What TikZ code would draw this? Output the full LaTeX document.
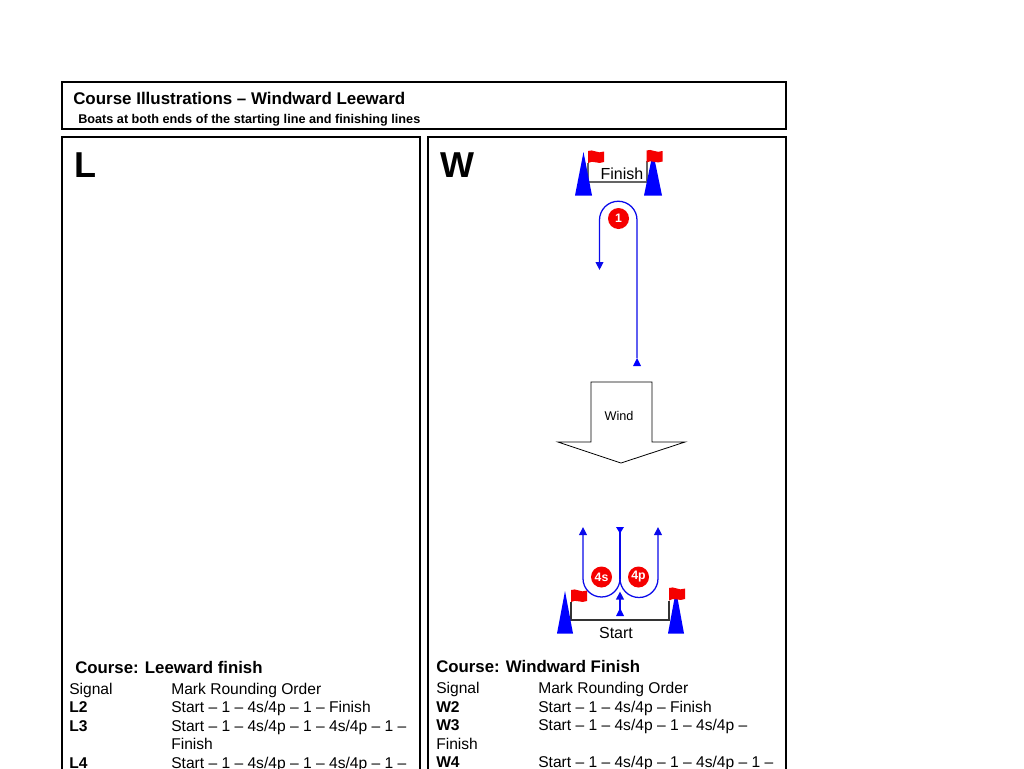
\documentclass[tikz,border=0pt]{standalone}
\usepackage{fontspec}
\setmainfont{Liberation Sans}
\usetikzlibrary{arrows.meta}
\definecolor{cblue}{RGB}{10,10,235}
\definecolor{bblue}{RGB}{0,0,255}
\definecolor{fred}{RGB}{245,0,0}
\definecolor{lgrey}{RGB}{100,100,100}
\begin{document}
\begin{tikzpicture}[x=0.75pt,y=-0.75pt,
  panelframe/.style={draw=black,line width=2.2pt},
  course/.style={draw=cblue,line width=0.95pt},
  tipped/.style={course,-{Triangle[length=6pt,width=5.8pt]}},
  buoy/.style={fill=bblue},
  flagshape/.style={fill=fred},
  markdisc/.style={circle,fill=fred,minimum size=15.75pt,inner sep=0pt,text=white,font=\bfseries\fontsize{9.2}{10}\selectfont},
  tabtext/.style={anchor=base west,inner sep=0pt,font=\fontsize{11.7}{14}\selectfont},
  tabbold/.style={tabtext,font=\bfseries\fontsize{11.7}{14}\selectfont},
  coursecap/.style={anchor=base west,inner sep=0pt,font=\bfseries\fontsize{12.6}{15}\selectfont},
  bigletter/.style={anchor=base west,inner sep=0pt,font=\bfseries\fontsize{27}{30}\selectfont}]
\useasboundingbox (0,0) rectangle (1024,768);
\fill[white] (0,0) rectangle (1024,768);

% header
\draw[panelframe] (62,82) rectangle (786,129);
\node[anchor=base west,inner sep=0pt,font=\bfseries\fontsize{12.7}{15}\selectfont] (title) at (73,104) {Course Illustrations – Windward Leeward};
\node[anchor=base west,inner sep=0pt,font=\bfseries\fontsize{9.5}{11}\selectfont] (subtitle) at (78,123.5) {Boats at both ends of the starting line and finishing lines};

% panels
\draw[panelframe] (62,800) -- (62,137) -- (420,137) -- (420,800);
\draw[panelframe] (428,800) -- (428,137) -- (786,137) -- (786,800);
\node[bigletter] (Lbig) at (74,177) {L};
\node[bigletter] (Wbig) at (440,177) {W};

% finish line
\draw[lgrey,line width=0.8pt] (588,163) -- (588,182) -- (647,182) -- (647,161);
\fill[buoy] (575,195.5) -- (592,195.5) -- (583.5,152) -- cycle;
\fill[buoy] (644,195.5) -- (662,195.5) -- (653,152) -- cycle;
\fill[flagshape] (588,151) .. controls (593,148.5) and (598,154.5) .. (604,151.5) -- (604,162) .. controls (598,165) and (593,159.5) .. (588,163) -- cycle;
\fill[flagshape] (646.5,150.5) .. controls (651.5,148) and (656.5,154) .. (662.5,151) -- (662.5,161.5) .. controls (656.5,164.5) and (651.5,159) .. (646.5,162.5) -- cycle;
\node[inner sep=0pt,font=\fontsize{12}{14}\selectfont] (finish) at (622,173.5) {Finish};

% mark 1 loop
\node[markdisc] (m1) at (618.5,218.5) {1};
\coordinate (m1in) at (637,358);
\coordinate (m1out) at (599.5,270);
\draw[tipped] (m1in) -- (637,220) arc[start angle=0,end angle=-180,radius=18.75] -- (m1out);
\fill[bblue] (633,366) -- (641,366) -- (m1in) -- cycle;

% wind arrow
\draw[black,line width=0.6pt] (591,382) -- (652,382) -- (652,442) -- (685,442) -- (621,463) -- (558,442) -- (591,442) -- cycle;
\node[inner sep=0pt,font=\fontsize{9.5}{11}\selectfont] (wind) at (619,416) {Wind};

% gate loops
\node[markdisc] (m4s) at (601.5,577) {4s};
\node[markdisc] (m4p) at (638.5,577) {4p};
\coordinate (gtop) at (620,527);
\coordinate (gjoin) at (620,578.5);
\coordinate (gl) at (583,527);
\coordinate (gr) at (658,527);
\draw[course] (gtop) -- (gjoin);
\fill[bblue] (616,527) -- (624,527) -- (620,533.5) -- cycle;
\draw[tipped] (gjoin) arc[start angle=0,end angle=180,radius=18.5] -- (gl);
\draw[tipped] (gjoin) arc[start angle=180,end angle=0,radius=19] -- (gr);
\coordinate (sfrom) at (620,615);
\coordinate (sto) at (620,591.5);
\draw[tipped] (sfrom) -- (sto);
\fill[bblue] (616,616) -- (624,616) -- (620,608) -- cycle;

% start line
\draw[black!80,line width=0.8pt] (571,602) -- (571,620) -- (669,620) -- (669,601);
\fill[buoy] (557,633.5) -- (573,633.5) -- (565,591) -- cycle;
\fill[buoy] (668,633.5) -- (684,633.5) -- (676,590) -- cycle;
\fill[flagshape] (571,590) .. controls (576,587.5) and (581,593.5) .. (587,590.5) -- (587,601) .. controls (581,604) and (576,598.5) .. (571,602) -- cycle;
\fill[flagshape] (669,588) .. controls (674,585.5) and (679,591.5) .. (685,588.5) -- (685,599) .. controls (679,602) and (674,596.5) .. (669,600.5) -- cycle;
\node[inner sep=0pt,font=\fontsize{12}{14}\selectfont] (start) at (616,632.5) {Start};

% L table
\node[coursecap] (Lcap) at (75,673) {Course: Leeward finish};
\node[tabtext] (Ls) at (69,694) {Signal};
\node[tabtext] (Lm) at (171,694) {Mark Rounding Order};
\node[tabbold] (L2) at (69,712.5) {L2};
\node[tabtext] (L2t) at (171,712.5) {Start – 1 – 4s/4p – 1 – Finish};
\node[tabbold] (L3) at (69,731) {L3};
\node[tabtext] (L3t) at (171,731) {Start – 1 – 4s/4p – 1 – 4s/4p – 1 –};
\node[tabtext] (L3u) at (171,749.5) {Finish};
\node[tabbold] (L4) at (69,768) {L4};
\node[tabtext] (L4t) at (171,768) {Start – 1 – 4s/4p – 1 – 4s/4p – 1 –};

% W table
\node[coursecap] (Wcap) at (436,672) {Course: Windward Finish};
\node[tabtext] (Ws) at (436,693.5) {Signal};
\node[tabtext] (Wm) at (538,693.5) {Mark Rounding Order};
\node[tabbold] (W2) at (436,712) {W2};
\node[tabtext] (W2t) at (538,712) {Start – 1 – 4s/4p – Finish};
\node[tabbold] (W3) at (436,730.5) {W3};
\node[tabtext] (W3t) at (538,730.5) {Start – 1 – 4s/4p – 1 – 4s/4p –};
\node[tabtext] (W3u) at (436,749) {Finish};
\node[tabbold] (W4) at (436,767.5) {W4};
\node[tabtext] (W4t) at (538,767.5) {Start – 1 – 4s/4p – 1 – 4s/4p – 1 –};
\end{tikzpicture}
\end{document}
